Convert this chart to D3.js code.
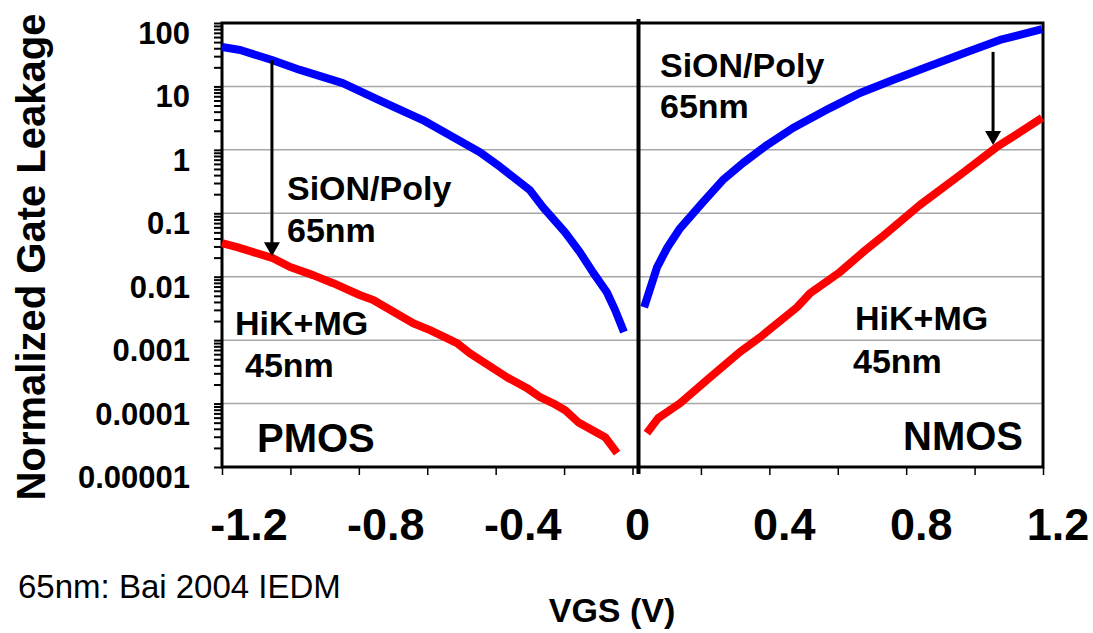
<!DOCTYPE html>
<html>
<head>
<meta charset="utf-8">
<script src="https://cdn.jsdelivr.net/npm/d3@7"></script>
<style>
  html, body { margin: 0; padding: 0; background: #fff; }
  svg { display: block; }
  text { font-family: "Liberation Sans", Arial, Helvetica, sans-serif; }
</style>
</head>
<body>
<svg id="chart" width="1093" height="633"></svg>
<script>
// ---- data ----
const pmosSiON_x = [-1.200,-1.147,-1.054,-0.972,-0.847,-0.730,-0.613,-0.525,-0.446,-0.387,-0.300,-0.262,-0.197,-0.154,-0.116,-0.075,-0.051,-0.025];
const pmosSiON_y = [41.8,37.5,26.1,18.2,11.3,5.7,2.95,1.59,0.92,0.54,0.232,0.125,0.050,0.0244,0.0118,0.0057,0.0030,0.00134];

const pmosHiK_x = [-1.200,-1.156,-1.051,-1.001,-0.934,-0.875,-0.796,-0.758,-0.641,-0.592,-0.513,-0.475,-0.367,-0.308,-0.270,-0.232,-0.197,-0.159,-0.080,-0.045];
const pmosHiK_y = [0.0339,0.0293,0.0196,0.0142,0.0106,0.0079,0.0051,0.0043,0.00185,0.00144,0.00090,0.00062,0.00026,0.000175,0.000126,0.000101,0.0000787,0.0000509,0.0000295,0.0000165];

const nmosSiON_x = [0.034,0.072,0.101,0.139,0.206,0.264,0.323,0.393,0.469,0.577,0.665,0.761,0.861,0.978,1.074,1.197];
const nmosSiON_y = [0.0033,0.0142,0.0283,0.058,0.150,0.334,0.62,1.19,2.21,4.56,7.87,12.6,20.2,34.9,54,80];

const nmosHiK_x = [0.042,0.075,0.139,0.227,0.314,0.373,0.481,0.519,0.606,0.680,0.732,0.840,0.957,1.065,1.197];
const nmosHiK_y = [0.0000341,0.0000589,0.000101,0.00026,0.00065,0.00111,0.0033,0.0055,0.0118,0.026,0.0437,0.135,0.40,1.11,3.18];

const xTickValues = [-1.2,-1.0,-0.8,-0.6,-0.4,-0.2,0,0.2,0.4,0.6,0.8,1.0,1.2];
const xLabelValues = [-1.2,-0.8,-0.4,0,0.4,0.8,1.2];
const xLabelTexts = ["-1.2","-0.8","-0.4","0","0.4","0.8","1.2"];
const yLabelValues = [100,10,1,0.1,0.01,0.001,0.0001,0.00001];
const yLabelTexts = ["100","10","1","0.1","0.01","0.001","0.0001","0.00001"];

// arrows: x position, start value, tip value
const arrowX = [-1.054, 1.054];
const arrowFrom = [26, 35];
const arrowTo = [0.021, 1.19];

// ---- layout ----
const svg = d3.select("#chart");
const L = 222, R = 1043, T = 23, B = 467;
const x = d3.scaleLinear().domain([-1.2, 1.2]).range([L, R]);
const y = d3.scaleLog().domain([0.00001, 100]).range([B, T]);

svg.append("rect").attr("width",1093).attr("height",633).attr("fill","#fff");

// gridlines
svg.append("g").selectAll("line")
  .data(yLabelValues.filter(v => v < 100 && v > 0.00001))
  .join("line")
  .attr("x1", L).attr("x2", R)
  .attr("y1", d => y(d)).attr("y2", d => y(d))
  .attr("stroke", "#a6a6a6").attr("stroke-width", 1.5);

// y axis ticks (log minor + major)
const yAxis = d3.axisLeft(y)
  .tickValues(y.ticks())
  .tickSize(8)
  .tickFormat("");
const gy = svg.append("g").attr("transform", `translate(${L},0)`).call(yAxis);
gy.select(".domain").remove();
gy.selectAll(".tick line").attr("stroke", "#000").attr("stroke-width", 2);

// x axis ticks
const xAxis = d3.axisBottom(x).tickValues(xTickValues).tickSize(8).tickFormat("");
const gx = svg.append("g").attr("transform", `translate(0,${B})`).call(xAxis);
gx.select(".domain").remove();
gx.selectAll(".tick line").attr("stroke", "#000").attr("stroke-width", 1.5);

// frame
svg.append("rect")
  .attr("x", L).attr("y", T).attr("width", R - L).attr("height", B - T)
  .attr("fill", "none").attr("stroke", "#000").attr("stroke-width", 3);

// separator between PMOS and NMOS panels
svg.append("line")
  .attr("x1", x(0) + 6).attr("x2", x(0) + 6)
  .attr("y1", T - 4).attr("y2", B + 7)
  .attr("stroke", "#000").attr("stroke-width", 4);

// curves
const line = d3.line().x(d => x(d[0])).y(d => y(d[1]));
const series = [
  {xs: pmosSiON_x, ys: pmosSiON_y, color: "#0000ff"},
  {xs: pmosHiK_x, ys: pmosHiK_y, color: "#ff0000"},
  {xs: nmosSiON_x, ys: nmosSiON_y, color: "#0000ff"},
  {xs: nmosHiK_x, ys: nmosHiK_y, color: "#ff0000"}
];
svg.append("g").selectAll("path")
  .data(series)
  .join("path")
  .attr("d", s => line(s.xs.map((v, i) => [v, s.ys[i]])))
  .attr("fill", "none")
  .attr("stroke", s => s.color)
  .attr("stroke-width", 8)
  .attr("stroke-linejoin", "round");

// arrows
const arrows = arrowX.map((v, i) => ({x: v, from: arrowFrom[i], to: arrowTo[i]}));
const ag = svg.append("g");
ag.selectAll("line")
  .data(arrows)
  .join("line")
  .attr("x1", d => x(d.x)).attr("x2", d => x(d.x))
  .attr("y1", d => y(d.from)).attr("y2", d => y(d.to) - 12)
  .attr("stroke", "#000").attr("stroke-width", 3);
ag.selectAll("path")
  .data(arrows)
  .join("path")
  .attr("d", d => {
    const cx = x(d.x), ty = y(d.to);
    return `M${cx - 8},${ty - 14} L${cx + 8},${ty - 14} L${cx},${ty} Z`;
  })
  .attr("fill", "#000");

// y tick labels
svg.append("g").selectAll("text")
  .data(yLabelValues)
  .join("text")
  .attr("x", 190)
  .attr("y", d => y(d) + 21)
  .attr("text-anchor", "end")
  .attr("font-size", 31)
  .attr("font-weight", "bold")
  .text((d, i) => yLabelTexts[i]);

// x tick labels
svg.append("g").selectAll("text")
  .data(xLabelValues)
  .join("text")
  .attr("x", d => x(d) + (d < 0 ? 27 : d > 0 ? 15 : 5))
  .attr("y", 540)
  .attr("text-anchor", "middle")
  .attr("font-size", 45)
  .attr("font-weight", "bold")
  .text((d, i) => xLabelTexts[i]);

// axis titles
svg.append("text")
  .attr("transform", "translate(45,257) rotate(-90)")
  .attr("text-anchor", "middle")
  .attr("font-size", 40)
  .attr("font-weight", "bold")
  .text("Normalized Gate Leakage");

svg.append("text")
  .attr("x", 612).attr("y", 622)
  .attr("text-anchor", "middle")
  .attr("font-size", 34)
  .attr("font-weight", "bold")
  .text("VGS (V)");

svg.append("text")
  .attr("x", 18).attr("y", 598)
  .attr("font-size", 33)
  .text("65nm: Bai 2004 IEDM");

// annotations
const notes = [
  {t: "SiON/Poly", x: 287, y: 200, s: 34},
  {t: "65nm", x: 287, y: 242, s: 34},
  {t: "SiON/Poly", x: 660, y: 77, s: 34},
  {t: "65nm", x: 660, y: 118, s: 34},
  {t: "HiK+MG", x: 235, y: 335, s: 34},
  {t: "45nm", x: 245, y: 377, s: 34},
  {t: "HiK+MG", x: 855, y: 330, s: 34},
  {t: "45nm", x: 853, y: 373, s: 34},
  {t: "PMOS", x: 257, y: 452, s: 40},
  {t: "NMOS", x: 903, y: 450, s: 40}
];
svg.append("g").selectAll("text")
  .data(notes)
  .join("text")
  .attr("x", d => d.x).attr("y", d => d.y)
  .attr("font-size", d => d.s)
  .attr("font-weight", "bold")
  .text(d => d.t);
</script>
</body>
</html>
